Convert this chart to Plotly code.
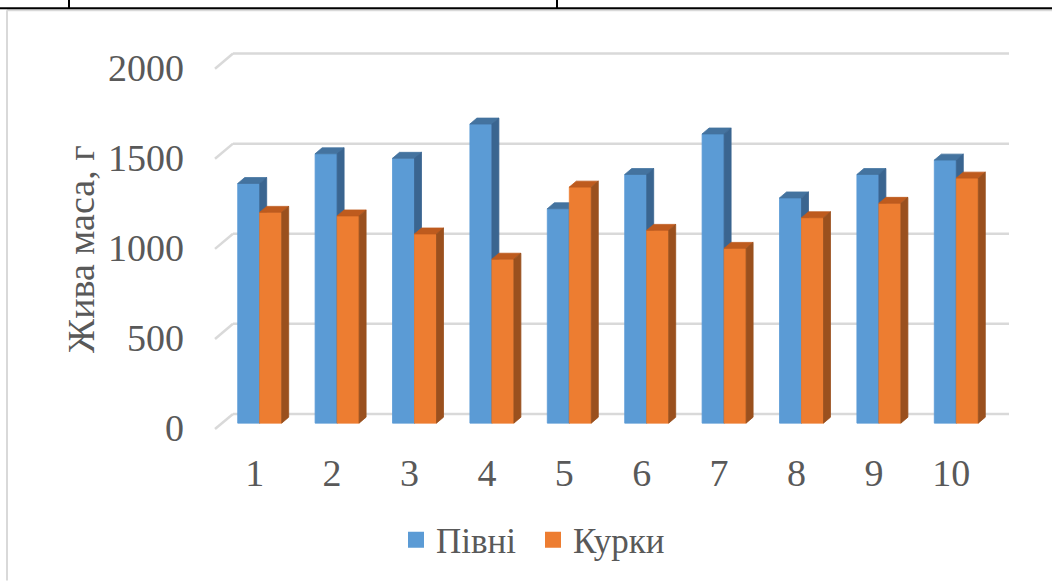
import plotly.graph_objects as go

# ---- data ----
categories = [1, 2, 3, 4, 5, 6, 7, 8, 9, 10]
pivni = [1330, 1495, 1470, 1660, 1190, 1380, 1605, 1250, 1380, 1460]
kurky = [1170, 1150, 1050, 910, 1310, 1070, 970, 1140, 1220, 1360]
series_names = ["Півні", "Курки"]
y_ticks = [0, 500, 1000, 1500, 2000]
y_title = "Жива маса, г"

# ---- style / layout constants ----
W, H = 1052, 581
ML, MR, MT, MB = 205, 37, 40, 141
BASE_PX, TOP_PX = 427, 63    # pixel rows of value 0 and 2000 in the bar plane
PX_PER_CAT = 77.4            # pixels per category
PX_PER_UNIT = (BASE_PX - TOP_PX) / 2000
XR = [0.5 - (221 - ML) / PX_PER_CAT, 0.5 + (W - MR - 221) / PX_PER_CAT]
YR = [-(H - MB - BASE_PX) / PX_PER_UNIT, 2000 + (TOP_PX - MT) / PX_PER_UNIT]
pxx = 1 / PX_PER_CAT
pxy = 1 / PX_PER_UNIT

bar_w = 22 * pxx
dx, dy = 7 * pxx, 6 * pxy

blue = dict(front="#5B9BD5", top="#44739F", side="#3A6590")
orange = dict(front="#ED7D31", top="#BE5B1E", side="#9A501E")
text_color = "#595959"
font_family = "'Liberation Serif', 'Times New Roman', 'DejaVu Serif', serif"
font_size = 38
legend_size = 35
grid_color = "#D9D9D9"

fig = go.Figure()


def add_series(vals, offset, col, name):
    fx, fy, tx, ty, sx, sy = [], [], [], [], [], []
    for c, v in zip(categories, vals):
        xl = c + offset
        xr = xl + bar_w
        fx += [xl, xr, xr, xl, xl, None]
        fy += [0, 0, v, v, 0, None]
        tx += [xl, xl + dx, xr + dx, xr, xl, None]
        ty += [v, v + dy, v + dy, v, v, None]
        sx += [xr, xr + dx, xr + dx, xr, xr, None]
        sy += [0, dy, v + dy, v, 0, None]
    for xs, ys, key in ((fx, fy, "front"), (tx, ty, "top"), (sx, sy, "side")):
        fig.add_trace(go.Scatter(
            x=xs, y=ys, mode="lines", fill="toself",
            fillcolor=col[key], line=dict(color=col[key], width=0.8),
            showlegend=False, hoverinfo="skip"))
    fig.add_trace(go.Scatter(
        x=[None], y=[None], mode="markers", name=name,
        marker=dict(symbol="square", size=17, color=col["front"])))


add_series(pivni, -bar_w, blue, series_names[0])
add_series(kurky, 0, orange, series_names[1])

# ---- 3D-like gridlines (back wall + left diagonal) ----
back_dy = 9.3 * pxy
front_dy = 6 * pxy
x_back_left = XR[0] + (233 - ML) * pxx
x_back_right = XR[0] + (1009 - ML) * pxx
x_front_left = XR[0] + (215 - ML) * pxx
shapes = []
for v in y_ticks:
    shapes.append(dict(type="line", xref="x", yref="y", layer="below",
                       x0=x_back_left, x1=x_back_right, y0=v + back_dy, y1=v + back_dy,
                       line=dict(color=grid_color, width=2.5)))
    shapes.append(dict(type="line", xref="x", yref="y", layer="below",
                       x0=x_front_left, x1=x_back_left, y0=v - front_dy, y1=v + back_dy,
                       line=dict(color=grid_color, width=2.5)))


def px2paper_x(p):
    return (p - ML) / (W - ML - MR)


def px2paper_y(p):
    return (H - MB - p) / (H - MT - MB)


# page decorations: table border above and chart frame (top and left edges)
shapes.append(dict(type="line", xref="paper", yref="paper", layer="below",
                   x0=px2paper_x(7), x1=px2paper_x(W + 5), y0=px2paper_y(10), y1=px2paper_y(10),
                   line=dict(color=grid_color, width=2)))
shapes.append(dict(type="line", xref="paper", yref="paper", layer="below",
                   x0=px2paper_x(7), x1=px2paper_x(7), y0=px2paper_y(10), y1=px2paper_y(H + 5),
                   line=dict(color=grid_color, width=2)))
shapes.append(dict(type="line", xref="paper", yref="paper",
                   x0=px2paper_x(0), x1=px2paper_x(W), y0=px2paper_y(8), y1=px2paper_y(8),
                   line=dict(color="black", width=2)))
for xp in (69, 557):
    shapes.append(dict(type="line", xref="paper", yref="paper",
                       x0=px2paper_x(xp), x1=px2paper_x(xp), y0=px2paper_y(-2), y1=px2paper_y(8),
                       line=dict(color="black", width=2)))

fig.update_layout(
    width=W, height=H,
    margin=dict(l=ML, r=MR, t=MT, b=MB, pad=0),
    paper_bgcolor="white", plot_bgcolor="white",
    font=dict(family=font_family, size=font_size, color=text_color),
    shapes=shapes,
    hovermode=False,
    showlegend=True,
    legend=dict(orientation="h", x=px2paper_x(396), xanchor="left",
                y=px2paper_y(545), yanchor="middle",
                entrywidth=92, entrywidthmode="pixels",
                font=dict(family=font_family, size=legend_size, color=text_color),
                itemclick=False, itemdoubleclick=False, tracegroupgap=0),
    xaxis=dict(range=XR, tickmode="array", tickvals=categories,
               ticktext=[str(c) for c in categories], showgrid=False, zeroline=False,
               showline=False, ticks="", ticklabelstandoff=11, ticklabelshift=-5,
               fixedrange=True),
    yaxis=dict(range=YR, tickmode="array", tickvals=y_ticks,
               ticktext=[str(v) for v in y_ticks], showgrid=False, zeroline=False,
               showline=False, ticks="", ticklabelstandoff=20, ticklabelshift=5,
               fixedrange=True),
    annotations=[dict(text=y_title, xref="paper", yref="paper",
                      x=px2paper_x(81), y=px2paper_y(251), xanchor="center", yanchor="middle",
                      textangle=-90, showarrow=False,
                      font=dict(family=font_family, size=font_size, color=text_color))],
)

fig.write_html("out.html", config={"displayModeBar": False},
               post_script="document.body.style.margin='0px';document.body.style.overflow='hidden';")
